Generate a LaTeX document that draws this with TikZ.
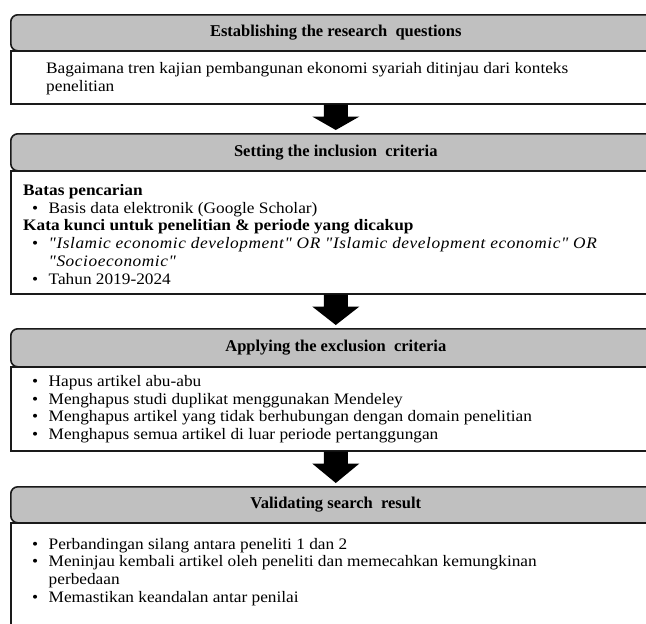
\documentclass[tikz,border=0pt]{standalone}
\usepackage{fontspec}
\setmainfont{Liberation Serif}[FakeStretch=1.08]
\newfontfamily\headfont{Liberation Serif}
\newfontfamily\quotefont{Liberation Serif}[FakeStretch=1.08, LetterSpace=3.6]
\usetikzlibrary{calc}
\definecolor{headgray}{HTML}{C0C0C0}
\definecolor{edge}{HTML}{1A1A1A}
\tikzset{
  headbox/.style={draw=edge, line width=1.6pt, fill=headgray, rounded corners=7pt,
    minimum width=650pt, inner sep=0pt, anchor=north west,
    font=\headfont\fontsize{16.5}{19}\selectfont\bfseries},
  bodybox/.style={draw=edge, line width=1.6pt, fill=white,
    minimum width=650pt, inner sep=0pt, anchor=north west},
  bodytext/.style={anchor=west, inner sep=0pt, align=left,
    font=\fontsize{16}{17.7}\selectfont},
  blockarrow/.style={fill=black},
}
% list helpers: bullet column and hanging continuation
\newcommand\bul{\makebox[16.5pt][l]{\textbullet}}
\newcommand\hang{\hspace*{16.5pt}}
% thick block arrow from the bottom of one box towards the top of the next
\newcommand\flowarrow[2]{%
  \fill[blockarrow] ($(#1.south)+(-12pt,0)$) -- ($(#1.south)+(12pt,0)$)
    -- ($(#1.south)+(12pt,-12pt)$) -- ($(#1.south)+(23.5pt,-12pt)$)
    -- ($(#2.north)+(0,3pt)$)
    -- ($(#1.south)+(-23.5pt,-12pt)$) -- ($(#1.south)+(-12pt,-12pt)$) -- cycle;}
\begin{document}
\begin{tikzpicture}[x=1pt,y=1pt]
\useasboundingbox (0,0) rectangle (646,-624);
\clip (0,0) rectangle (646,-624);

% step 1
\node[bodybox, minimum height=53pt] (b1) at (10,-50) {};
\node[headbox, minimum height=36pt] (h1) at (10,-14) {Establishing the research\ \ questions};
\node[bodytext] (t1) at ($(b1.west)+(36pt,-1.5pt)$)
  {Bagaimana tren kajian pembangunan ekonomi syariah ditinjau dari konteks\\penelitian};

% step 2
\node[bodybox, minimum height=123pt] (b2) at (10,-170) {};
\node[headbox, minimum height=37pt] (h2) at (10,-133) {Setting the inclusion\ \ criteria};
\node[bodytext] (t2) at ($(b2.west)+(13pt,-2pt)$)
  {\textbf{Batas pencarian}\\
   \hspace*{9pt}\bul Basis data elektronik (Google Scholar)\\
   \textbf{Kata kunci untuk penelitian \& periode yang dicakup}\\
   \hspace*{9pt}\bul{\quotefont\itshape "Islamic economic development" OR "Islamic development economic" OR}\\
   \hspace*{9pt}\hang{\quotefont\itshape "Socioeconomic"}\\
   \hspace*{9pt}\bul Tahun 2019-2024};

% step 3
\node[bodybox, minimum height=84pt] (b3) at (10,-366) {};
\node[headbox, minimum height=38pt] (h3) at (10,-328) {Applying the exclusion\ \ criteria};
\node[bodytext] (t3) at ($(b3.west)+(22pt,-0.5pt)$)
  {\bul Hapus artikel abu-abu\\
   \bul Menghapus studi duplikat menggunakan Mendeley\\
   \bul Menghapus artikel yang tidak berhubungan dengan domain penelitian\\
   \bul Menghapus semua artikel di luar periode pertanggungan};

% step 4
\node[bodybox, minimum height=120pt] (b4) at (10,-522) {};
\node[headbox, minimum height=36pt] (h4) at (10,-486) {Validating search\ \ result};
\node[bodytext] (t4) at ($(b4.west)+(22pt,11pt)$)
  {\bul Perbandingan silang antara peneliti 1 dan 2\\
   \bul Meninjau kembali artikel oleh peneliti dan memecahkan kemungkinan\\
   \hang perbedaan\\
   \bul Memastikan keandalan antar penilai};

% arrows between the steps
\flowarrow{b1}{h2}
\flowarrow{b2}{h3}
\flowarrow{b3}{h4}
\end{tikzpicture}
\end{document}
